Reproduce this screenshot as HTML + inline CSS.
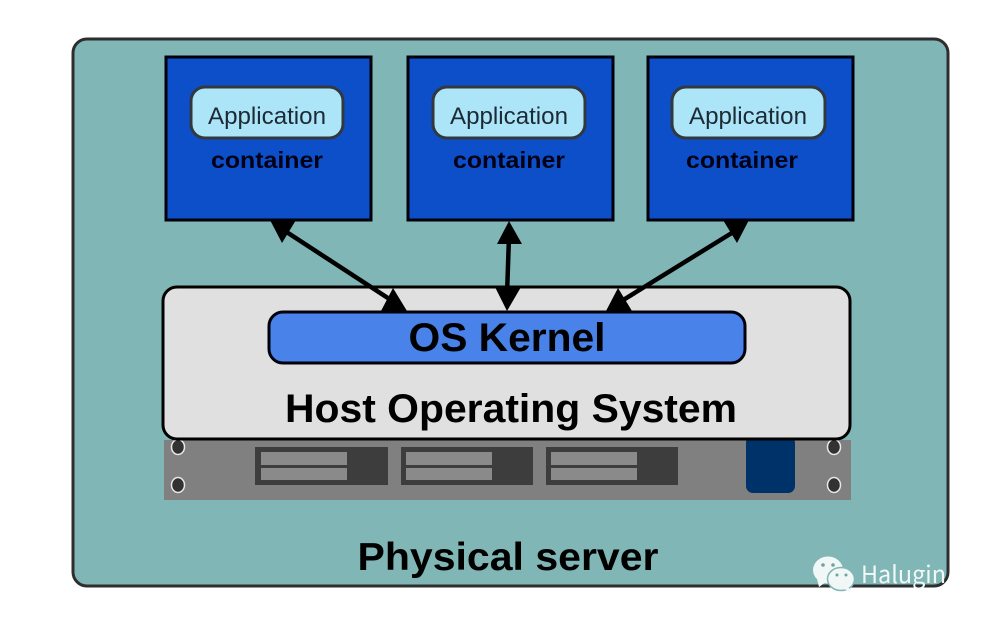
<!DOCTYPE html>
<html><head><meta charset="utf-8"><style>
html,body{margin:0;padding:0;background:#fff;width:981px;height:620px;overflow:hidden}
svg{display:block}
text{font-family:"Liberation Sans",sans-serif}
</style></head><body>
<svg width="981" height="620" viewBox="0 0 981 620" xmlns="http://www.w3.org/2000/svg">
<defs><filter id="b" filterUnits="userSpaceOnUse" x="0" y="0" width="981" height="620"><feGaussianBlur stdDeviation="0.35"/></filter></defs>
<g filter="url(#b)">
<rect x="73" y="39" width="875" height="547" rx="14" fill="#80b7b6" stroke="#2e2e2e" stroke-width="3"/>
<g fill="#1150c8" stroke="#02040c" stroke-width="3">
<rect x="166" y="57" width="205" height="163"/>
<rect x="408" y="57" width="205" height="163"/>
<rect x="648" y="57" width="205" height="163"/>
</g>
<g fill="#ace4f8" stroke="#33373f" stroke-width="3">
<rect x="191" y="87" width="152" height="51" rx="14"/>
<rect x="433" y="87" width="152" height="51" rx="14"/>
<rect x="672" y="87" width="153" height="51" rx="14"/>
</g>
<g font-size="24" fill="#1f2c36" text-anchor="middle">
<text x="267" y="124" textLength="118" lengthAdjust="spacingAndGlyphs">Application</text>
<text x="509" y="124" textLength="118" lengthAdjust="spacingAndGlyphs">Application</text>
<text x="748" y="124" textLength="118" lengthAdjust="spacingAndGlyphs">Application</text>
</g>
<g font-size="23" font-weight="bold" fill="#000214" text-anchor="middle">
<text x="267" y="168" textLength="112" lengthAdjust="spacingAndGlyphs">container</text>
<text x="509" y="168" textLength="112" lengthAdjust="spacingAndGlyphs">container</text>
<text x="742" y="168" textLength="112" lengthAdjust="spacingAndGlyphs">container</text>
</g>
<rect x="164" y="440" width="687" height="60" fill="#808080"/>
<g fill="#3e3e3e">
<rect x="255" y="447" width="133" height="38"/>
<rect x="401" y="447" width="132" height="38"/>
<rect x="546" y="447" width="132" height="38"/>
</g>
<g fill="#8a8a8a">
<rect x="261" y="452" width="86" height="13"/><rect x="261" y="468" width="86" height="12"/>
<rect x="406" y="452" width="86" height="13"/><rect x="406" y="468" width="86" height="12"/>
<rect x="551" y="452" width="86" height="13"/><rect x="551" y="468" width="86" height="12"/>
</g>
<rect x="746" y="436" width="49" height="57" rx="7" fill="#00306a"/>
<g fill="#333" stroke="#e8e8e8" stroke-width="1.500">
<ellipse cx="178" cy="447" rx="6.500" ry="7.500"/><ellipse cx="178" cy="485" rx="6.500" ry="7.500"/>
<ellipse cx="834" cy="447" rx="6.500" ry="7.500"/><ellipse cx="834" cy="485" rx="6.500" ry="7.500"/>
</g>
<rect x="163" y="287" width="687" height="152" rx="14" fill="#e0e0e0" stroke="#000" stroke-width="3"/>
<rect x="269" y="312" width="476" height="51" rx="14" fill="#4a82e8" stroke="#02040c" stroke-width="3"/>
<text x="507" y="351" font-size="40" font-weight="bold" fill="#000" text-anchor="middle" textLength="197" lengthAdjust="spacingAndGlyphs">OS Kernel</text>
<text x="511" y="422" font-size="40" font-weight="bold" fill="#000" text-anchor="middle" textLength="452" lengthAdjust="spacingAndGlyphs">Host Operating System</text>
<text x="508" y="570" font-size="39" font-weight="bold" fill="#000" text-anchor="middle" textLength="301" lengthAdjust="spacingAndGlyphs">Physical server</text>
<g stroke="#000" stroke-width="4.500" fill="none">
<line x1="285" y1="231" x2="394" y2="302"/>
<line x1="509" y1="236" x2="507" y2="295"/>
<line x1="735" y1="231" x2="620" y2="302"/>
</g>
<g fill="#000">
<polygon points="270,220 296,220 282,243"/>
<polygon points="393,288 407,311 381,311"/>
<polygon points="509,221 522,244 497,244"/>
<polygon points="495,287 521,287 507,311"/>
<polygon points="749,220 723,220 737,243"/>
<polygon points="618,288 632,311 606,311"/>
</g>
</g>
<g fill="#f0f7f6">
<ellipse cx="828" cy="570" rx="15" ry="13.500"/>
<polygon points="817,579 819,587 826,582"/>
</g>
<ellipse cx="841" cy="579" rx="13.500" ry="11.500" fill="#f0f7f6" stroke="#80b7b6" stroke-width="1.500"/>
<polygon points="844,589 851,592 848,586" fill="#f0f7f6"/>
<g fill="#6aa5a4">
<circle cx="823" cy="565" r="1.800"/><circle cx="833" cy="565" r="1.800"/>
<circle cx="837" cy="575" r="1.500"/><circle cx="846" cy="575" r="1.500"/>
</g>
<text x="861" y="583" font-size="24" fill="#f2f8f8" style="font-family:'Noto Sans CJK SC','Liberation Sans',sans-serif" textLength="85" lengthAdjust="spacingAndGlyphs">Halugin</text>
</svg>
</body></html>
